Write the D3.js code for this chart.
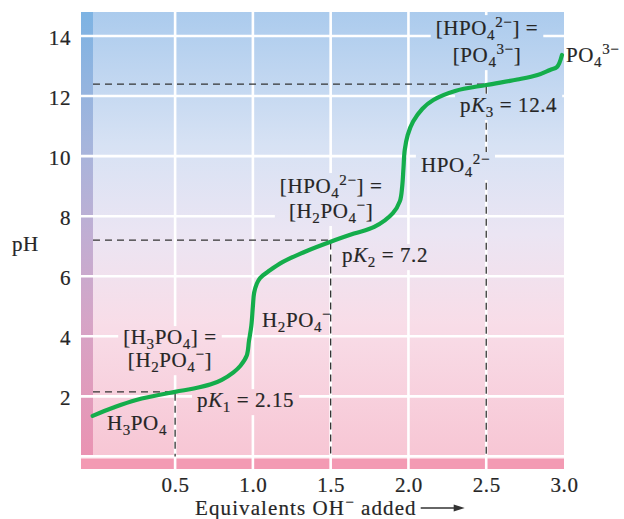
<!DOCTYPE html>
<html>
<head>
<meta charset="utf-8">
<script src="https://cdn.jsdelivr.net/npm/d3@7"></script>
<style>
  html, body { margin: 0; padding: 0; background: #ffffff; }
  svg { display: block; }
  text { font-family: "Liberation Serif", "Times New Roman", serif; fill: #262626; stroke: #262626; stroke-width: 0.2px; }
</style>
</head>
<body>
<svg id="chart" width="624" height="519"></svg>
<script>
// ---------------- data ----------------
const xTicks = [0.5, 1.0, 1.5, 2.0, 2.5, 3.0];
const yTicks = [2, 4, 6, 8, 10, 12, 14];
const gridX = [0.5, 1.0, 1.5, 2.0, 2.5];
const gridY = [0, 2, 4, 6, 8, 10, 12, 14];

// titration curve: equivalents of OH- added vs pH
const curveEq = [-0.03, 0.1, 0.25, 0.5, 0.62, 0.73, 0.8, 0.875, 0.92, 0.96, 0.975, 0.99, 1.0, 1.008, 1.025, 1.046, 1.11, 1.19, 1.35, 1.5, 1.65, 1.78, 1.9, 1.945, 1.96, 1.968, 1.976, 1.995, 2.03, 2.09, 2.16, 2.3, 2.5, 2.7, 2.83, 2.91, 2.955, 2.987];
const curvePH = [1.35, 1.62, 1.88, 2.15, 2.26, 2.4, 2.55, 2.8, 3.02, 3.35, 3.85, 4.35, 5.0, 5.45, 5.75, 5.94, 6.2, 6.47, 6.85, 7.15, 7.42, 7.64, 8.1, 8.5, 9.0, 9.6, 10.2, 10.7, 11.15, 11.58, 11.87, 12.17, 12.37, 12.55, 12.7, 12.87, 12.97, 13.37];

// half-equivalence points
const halfEq = [0.5, 1.5, 2.5];
const pKa = [2.15, 7.2, 12.4];

// ---------------- layout ----------------
const svg = d3.select("#chart");
const x = d3.scaleLinear().domain([-0.105, 3.0]).range([81, 564]);
const y = d3.scaleLinear().domain([-0.42, 14.8]).range([469, 12]);
const [x0, x1] = x.range();
const [yB, yT] = y.range();

const defs = svg.append("defs");
function vgrad(id, stops) {
  const g = defs.append("linearGradient").attr("id", id)
    .attr("gradientUnits", "userSpaceOnUse")
    .attr("x1", 0).attr("x2", 0).attr("y1", yT).attr("y2", y(0));
  stops.forEach(s => g.append("stop").attr("offset", s[0]).attr("stop-color", s[1]));
}
vgrad("bgGrad", [[0, "#abcbed"], [0.3, "#d7e2f4"], [0.5, "#ebe5f3"], [0.7, "#f8dde8"], [1, "#f7c6d4"]]);
vgrad("stripGrad", [[0, "#7db3e3"], [0.3, "#a6b5dc"], [0.5, "#c0aed3"], [0.7, "#d6a4c6"], [1, "#ea93b2"]]);

// backgrounds
svg.append("rect").attr("x", x0).attr("y", yT).attr("width", x1 - x0).attr("height", yB - yT)
  .attr("fill", "url(#bgGrad)");
svg.append("rect").attr("x", x0).attr("y", yT).attr("width", x(-0.028) - x0).attr("height", y(0) - yT)
  .attr("fill", "url(#stripGrad)");
svg.append("rect").attr("x", x0).attr("y", y(-0.087)).attr("width", x1 - x0).attr("height", yB - y(-0.087))
  .attr("fill", "#f39ab3");

// mask for knocking grid out behind labels
const mask = defs.append("mask").attr("id", "labelMask").attr("maskUnits", "userSpaceOnUse")
  .attr("x", 0).attr("y", 0).attr("width", 624).attr("height", 519);
mask.append("rect").attr("x", 0).attr("y", 0).attr("width", 624).attr("height", 519).attr("fill", "white");

const gridG = svg.append("g").attr("mask", "url(#labelMask)");
gridG.selectAll("line.gy").data(gridY).join("line").attr("class", "gy")
  .attr("x1", x0).attr("x2", x1).attr("y1", d => y(d)).attr("y2", d => y(d))
  .attr("stroke", "#ffffff").attr("stroke-width", 2.6);
gridG.selectAll("line.gx").data(gridX).join("line").attr("class", "gx")
  .attr("x1", d => x(d)).attr("x2", d => x(d)).attr("y1", yT).attr("y2", yB)
  .attr("stroke", "#ffffff").attr("stroke-width", 2.6);

// dashed pKa guides
const pk = halfEq.map((e, i) => ({ e, p: pKa[i] }));
gridG.selectAll("path.pk").data(pk).join("path").attr("class", "pk")
  .attr("d", d => `M${x(-0.028)},${y(d.p)}H${x(d.e)}V${y(0)}`)
  .attr("fill", "none").attr("stroke", "#333").attr("stroke-width", 1.3)
  .attr("stroke-dasharray", "7,5");

// curve
const line = d3.line().x(d => x(d[0])).y(d => y(d[1])).curve(d3.curveCatmullRom.alpha(0.5));
svg.append("path").datum(curveEq.map((e, i) => [e, curvePH[i]]))
  .attr("d", line).attr("fill", "none").attr("stroke", "#14ad4b")
  .attr("stroke-width", 4.2).attr("stroke-linecap", "round").attr("stroke-linejoin", "round");

// axes (labels only)
const FS = 21;
const LS = 0.6;
const yAxis = svg.append("g").attr("transform", `translate(${x0},0)`)
  .call(d3.axisLeft(y).tickValues(yTicks).tickFormat(d3.format("d")).tickSize(0).tickPadding(10));
yAxis.select(".domain").remove();
yAxis.selectAll("text").attr("dy", "0.4em").attr("font-size", FS)
  .attr("font-family", "Liberation Serif, serif").attr("fill", "#262626").attr("letter-spacing", LS);

const xAxis = svg.append("g").attr("transform", `translate(0,${yB})`)
  .call(d3.axisBottom(x).tickValues(xTicks).tickFormat(d3.format(".1f")).tickSize(0).tickPadding(9));
xAxis.select(".domain").remove();
xAxis.selectAll("text").attr("font-size", FS).attr("dy", "0.68em")
  .attr("font-family", "Liberation Serif, serif").attr("fill", "#262626").attr("letter-spacing", LS);

// rich text helper
function rich(g, segs, xx, yy, anchor, ls) {
  const t = g.append("text").attr("x", xx).attr("y", yy).attr("text-anchor", anchor)
    .attr("font-size", FS).attr("letter-spacing", ls === undefined ? LS : ls);
  let cur = 0;
  segs.forEach(([s, kind]) => {
    const shift = kind === "sub" ? 5 : kind === "sup" ? -8 : 0;
    const ts = t.append("tspan").text(s).attr("dy", shift - cur);
    if (kind === "sub" || kind === "sup") ts.attr("font-size", 15);
    if (kind === "i") ts.attr("font-style", "italic");
    cur = shift;
  });
  return t;
}

// annotations (data coordinates)
const annotations = [
  { lines: [[["[HPO", ""], ["4", "sub"], ["2−", "sup"], ["] =", ""]], [["[PO", ""], ["4", "sub"], ["3−", "sup"], ["]", ""]]],
    at: [2.505, [14.03, 13.13]], anchor: "middle", knock: true },
  { lines: [[["PO", ""], ["4", "sub"], ["3−", "sup"]]], at: [3.013, [13.13]], anchor: "start", knock: false },
  { lines: [[["p", ""], ["K", "i"], ["3", "sub"], [" = 12.4", ""]]], at: [2.332, [11.47]], anchor: "start", knock: true },
  { lines: [[["HPO", ""], ["4", "sub"], ["2−", "sup"]]], at: [2.08, [9.47]], anchor: "start", knock: true },
  { lines: [[["[HPO", ""], ["4", "sub"], ["2−", "sup"], ["] =", ""]], [["[H", ""], ["2", "sub"], ["PO", ""], ["4", "sub"], ["−", "sup"], ["]", ""]]],
    at: [1.503, [8.77, 7.94]], anchor: "middle", knock: true },
  { lines: [[["p", ""], ["K", "i"], ["2", "sub"], [" = 7.2", ""]]], at: [1.573, [6.47]], anchor: "start", knock: true },
  { lines: [[["H", ""], ["2", "sub"], ["PO", ""], ["4", "sub"], ["−", "sup"]]], at: [1.059, [4.31]], anchor: "start", knock: false },
  { lines: [[["[H", ""], ["3", "sub"], ["PO", ""], ["4", "sub"], ["] =", ""]], [["[H", ""], ["2", "sub"], ["PO", ""], ["4", "sub"], ["−", "sup"], ["]", ""]]],
    at: [0.467, [3.74, 2.97]], anchor: "middle", knock: true },
  { lines: [[["p", ""], ["K", "i"], ["1", "sub"], [" = 2.15", ""]]], at: [0.641, [1.64]], anchor: "start", knock: true },
  { lines: [[["H", ""], ["3", "sub"], ["PO", ""], ["4", "sub"]]], at: [0.062, [0.88]], anchor: "start", knock: false }
];

const annG = svg.append("g");
annotations.forEach(a => {
  const g = annG.append("g");
  a.lines.forEach((ln, i) => rich(g, ln, x(a.at[0]), y(a.at[1][i]), a.anchor));
  if (a.knock) {
    const b = g.node().getBBox();
    mask.append("rect").attr("x", b.x - 5).attr("y", b.y + 1).attr("width", b.width + 10)
      .attr("height", b.height - 1).attr("fill", "black");
  }
});

// axis titles
rich(svg, [["pH", ""]], 12, 251, "start");
const xt = rich(svg, [["Equivalents OH", ""], ["−", "sup"], [" added", ""]], 195, 515, "start", 1.1);
const xb = xt.node().getBBox();
const ax = xb.x + xb.width + 4;
svg.append("line").attr("x1", ax).attr("x2", ax + 36).attr("y1", 508).attr("y2", 508)
  .attr("stroke", "#333").attr("stroke-width", 1.5);
svg.append("path").attr("d", `M${ax + 44},508 L${ax + 33},504.5 L${ax + 33},511.5 Z`).attr("fill", "#333");
</script>
</body>
</html>
